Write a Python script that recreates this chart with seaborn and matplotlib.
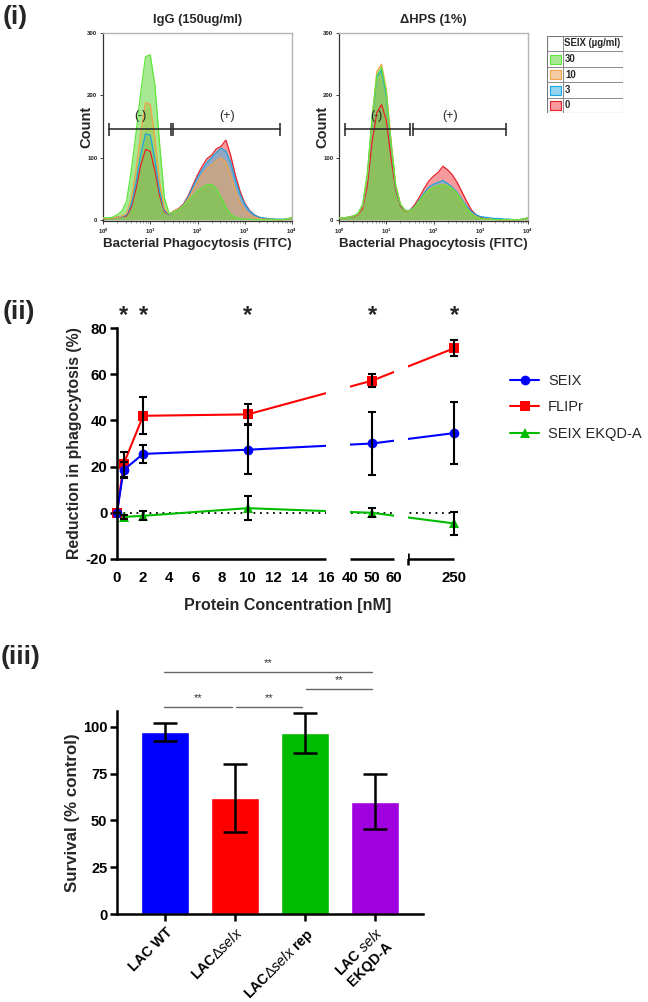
import numpy as np
import pandas as pd
import matplotlib
matplotlib.use("Agg")
import matplotlib.pyplot as plt
import seaborn as sns
from matplotlib.patches import Rectangle
from matplotlib.ticker import FixedLocator, NullFormatter, LogLocator, LogFormatterSciNotation

# ---------------------------------------------------------------- data
# (i) flow cytometry histograms: log10(FITC) bin centres and counts
fitc_log = [0.0, 0.1, 0.2, 0.3, 0.4, 0.5, 0.6, 0.7, 0.8, 0.9,
            1.0, 1.1, 1.2, 1.3, 1.4, 1.5, 1.6, 1.7, 1.8, 1.9,
            2.0, 2.1, 2.2, 2.3, 2.4, 2.5, 2.6, 2.7, 2.8, 2.9,
            3.0, 3.1, 3.2, 3.3, 3.4, 3.5, 3.6, 3.7, 3.8, 3.9, 4.0]
seix_levels = ["30", "10", "3", "0"]

igg_30 = [3, 3, 4, 8, 14, 30, 80, 140, 205, 262, 265, 215, 120, 35, 10, 12, 16, 22, 30, 38,
          46, 52, 56, 57, 50, 36, 20, 9, 4, 2, 1, 1, 0, 0, 0, 0, 0, 0, 0, 1, 4]
igg_10 = [2, 2, 3, 4, 6, 10, 35, 80, 140, 188, 185, 130, 60, 18, 9, 14, 17, 23, 33, 46,
          60, 72, 82, 88, 95, 100, 92, 72, 46, 28, 15, 8, 4, 2, 1, 1, 0, 0, 0, 1, 3]
igg_3 = [2, 2, 3, 4, 5, 8, 25, 60, 105, 138, 136, 95, 45, 15, 8, 14, 17, 24, 36, 52,
         68, 80, 92, 100, 108, 115, 110, 92, 64, 41, 25, 14, 8, 4, 3, 2, 1, 1, 1, 1, 3]
igg_0 = [2, 2, 3, 4, 5, 6, 20, 50, 88, 113, 110, 78, 38, 13, 8, 14, 18, 25, 38, 55,
         72, 86, 98, 104, 114, 118, 128, 104, 72, 46, 27, 15, 8, 4, 2, 1, 1, 0, 0, 1, 3]

hps_30 = [3, 3, 4, 6, 10, 25, 75, 165, 232, 245, 205, 125, 55, 25, 15, 14, 20, 30, 40, 47,
          52, 55, 56, 54, 50, 42, 30, 18, 9, 4, 2, 1, 1, 0, 0, 0, 0, 0, 0, 1, 3]
hps_10 = [3, 3, 4, 6, 9, 22, 70, 160, 238, 250, 210, 128, 56, 25, 15, 14, 20, 30, 40, 48,
          53, 55, 57, 55, 50, 42, 31, 19, 10, 5, 2, 1, 1, 0, 0, 0, 0, 0, 0, 1, 3]
hps_3 = [3, 3, 4, 6, 9, 22, 68, 158, 230, 240, 200, 122, 52, 24, 15, 15, 21, 32, 43, 52,
         57, 60, 63, 58, 52, 44, 33, 22, 13, 8, 5, 4, 3, 2, 2, 1, 1, 0, 0, 1, 3]
hps_0 = [3, 3, 4, 5, 8, 18, 55, 125, 172, 185, 160, 100, 48, 22, 14, 15, 24, 36, 50, 62,
         70, 76, 86, 80, 72, 60, 45, 30, 16, 8, 4, 2, 1, 1, 0, 0, 0, 0, 0, 1, 3]

# gates (log10 FITC limits) for (-) and (+)
igg_gates = [(0.13, 1.43), (1.49, 3.74)]
hps_gates = [(0.13, 1.50), (1.57, 3.53)]

# (ii) reduction in phagocytosis
conc_nm = [0, 0.5, 2, 10, 50, 250]
seix_mean = [0, 18.5, 25.5, 27.3, 30.0, 34.5]
seix_err = [0, 3.5, 3.8, 10.5, 13.6, 13.5]
flipr_mean = [0, 21.0, 42.0, 42.6, 57.2, 71.2]
flipr_err = [0, 5.5, 8.0, 4.3, 2.8, 3.5]
ekqd_mean = [0, -1.8, -1.3, 2.0, 0.0, -4.6]
ekqd_err = [0, 1.0, 2.0, 5.3, 2.0, 4.9]
proteins = ["SEIX", "FLIPr", "SEIX EKQD-A"]
sig_conc = [0.5, 2, 10, 50, 250]
conc_ticks = [0, 2, 4, 6, 8, 10, 12, 14, 16, 40, 50, 60, 250]

# (iii) survival
strains = ["LAC WT", "LACdselx", "LACdselx rep", "LAC selx EKQD-A"]
strain_labels = ["LAC WT", r"LAC$\Delta\mathit{selx}$", r"LAC$\Delta\mathit{selx}$ rep",
                 "LAC $\\mathit{selx}$\nEKQD-A"]
survival = [97.3, 62.0, 96.8, 60.0]
survival_err = [5.0, 18.3, 10.5, 14.8]
sig_pairs = [(0, 1), (1, 2), (2, 3), (0, 3)]
sig_text = ["**", "**", "**", "**"]

# ---------------------------------------------------------------- style
sns.set_theme(style="ticks")
plt.rcParams["font.family"] = ["Liberation Sans", "DejaVu Sans"]
plt.rcParams["font.weight"] = "bold"
plt.rcParams["axes.unicode_minus"] = False
plt.rcParams["mathtext.fontset"] = "custom"
plt.rcParams["mathtext.rm"] = "Liberation Sans:weight=normal"
plt.rcParams["mathtext.it"] = "Liberation Sans:style=italic:weight=normal"
plt.rcParams["mathtext.bf"] = "Liberation Sans:weight=bold"

W, H = 648, 1002
fig = plt.figure(figsize=(W / 100, H / 100), dpi=100)


def rect(x0, y0, x1, y1):
    return [x0 / W, 1 - y1 / H, (x1 - x0) / W, (y1 - y0) / H]


hist_fill = {"30": "#5fd83a", "10": "#eea45c", "3": "#3db4e6", "0": "#f0474d"}
hist_edge = {"30": "#5ee63a", "10": "#f2a24a", "3": "#1aa6e0", "0": "#e8202a"}


def hist_panel(box, title, series, gates, lbl_pos):
    ax = fig.add_axes(rect(*box))
    xv = 10 ** np.asarray(fitc_log)
    for lev in ["0", "3", "10", "30"]:
        vals = series[lev]
        ax.fill_between(xv, vals, 0, color=hist_fill[lev], alpha=0.55, lw=0, zorder=2)
        ax.plot(xv, vals, color=hist_edge[lev], lw=0.9, zorder=3)
    ax.set_xscale("log")
    ax.set_xlim(1, 1e4)
    ax.set_ylim(-2, 300)
    ax.set_yticks([0, 100, 200, 300])
    ax.xaxis.set_major_locator(LogLocator(base=10, numticks=10))
    ax.xaxis.set_major_formatter(LogFormatterSciNotation())
    ax.xaxis.set_minor_locator(LogLocator(base=10, subs=np.arange(2, 10), numticks=50))
    ax.xaxis.set_minor_formatter(NullFormatter())
    ax.tick_params(axis="both", which="major", labelsize=4.3, length=2, width=0.6, pad=2,
                   colors="#222222")
    ax.tick_params(axis="x", which="minor", length=1.2, width=0.4, colors="#444444")
    for s in ["left", "bottom"]:
        ax.spines[s].set_color("#333333")
        ax.spines[s].set_linewidth(0.9)
    for s in ["top", "right"]:
        ax.spines[s].set_color("#b5b5b5")
        ax.spines[s].set_linewidth(1.0)
    ax.set_title(title, fontsize=9.3, fontweight="bold", pad=7)
    ax.set_ylabel("Count", fontsize=10.5, fontweight="bold")
    ax.yaxis.set_label_coords(-0.05, 0.5)
    ax.set_xlabel("Bacterial Phagocytosis (FITC)", fontsize=9.6, fontweight="bold")
    ax.xaxis.set_label_coords(0.5, -0.09)
    gy = 145
    for lo, hi in gates:
        ax.plot([10 ** lo, 10 ** hi], [gy, gy], color="#222222", lw=1.1, zorder=5)
        ax.vlines([10 ** lo, 10 ** hi], gy - 11, gy + 11, color="#222222", lw=1.1, zorder=5)
    ax.text(10 ** lbl_pos[0], 166, "(-)", ha="center", va="center", fontsize=9,
            fontweight="normal", zorder=6)
    ax.text(10 ** lbl_pos[1], 166, "(+)", ha="center", va="center", fontsize=9,
            fontweight="normal", zorder=6)
    return ax


hist_panel((103, 33, 292, 221), "IgG (150ug/ml)",
           {"30": igg_30, "10": igg_10, "3": igg_3, "0": igg_0}, igg_gates, (0.79, 2.62))
hist_panel((339, 33, 528, 221), "\u0394HPS (1%)",
           {"30": hps_30, "10": hps_10, "3": hps_3, "0": hps_0}, hps_gates, (0.80, 2.35))

# legend table for (i)
lt = fig.add_axes(rect(547, 36, 623, 113))
lt.set_xlim(0, 76)
lt.set_ylim(77, 0)
lt.axis("off")
lt.add_patch(Rectangle((0, 0), 76, 77, fill=False, ec="#777777", lw=0.8))
row_tops = [0, 15, 30.5, 46, 61.5]
for yy in row_tops[1:]:
    lt.plot([0, 76], [yy, yy], color="#777777", lw=0.6)
lt.plot([16, 16], [0, 77], color="#777777", lw=0.6)
lt.text(17.5, 7.5, "SEIX (\u00b5g/ml)", fontsize=6.9, fontweight="bold", va="center")
for i, lev in enumerate(seix_levels):
    top = row_tops[i + 1]
    lt.add_patch(Rectangle((2.5, top + 3.5), 11, 9, fc=hist_fill[lev], alpha=0.55,
                           ec="none"))
    lt.add_patch(Rectangle((2.5, top + 3.5), 11, 9, fill=False, ec=hist_edge[lev], lw=0.8))
    lt.text(18, top + 8, lev, fontsize=6.9, fontweight="bold", va="center")

# ---------------------------------------------------------------- (ii)
ax2 = fig.add_axes(rect(117, 328, 454, 559))
df = pd.DataFrame({
    "conc": conc_nm * 3,
    "value": seix_mean + flipr_mean + ekqd_mean,
    "protein": [proteins[0]] * 6 + [proteins[1]] * 6 + [proteins[2]] * 6,
})
line_cols = ["#0000ff", "#ff0000", "#00bb00"]
sns.lineplot(data=df, x="conc", y="value", hue="protein", style="protein",
             hue_order=proteins, style_order=proteins, markers=["o", "s", "^"],
             dashes=False, palette=line_cols, markersize=7, markeredgewidth=0,
             lw=1.5, ax=ax2, clip_on=False, zorder=2)
# SEIX drawn on top of the other series (as in the reference)
if len(ax2.lines) >= 3:
    ax2.lines[0].set_zorder(2.4)
    ax2.lines[1].set_zorder(2.2)

brk_c = np.array([0.0, 16.0, 40.0, 60.0, 200.0, 250.0])
brk_v = np.array([0.0, 209.0, 233.0, 277.0, 291.0, 337.0])


def _map(a, xs, ys):
    a = np.asarray(a, dtype=float)
    out = np.interp(a, xs, ys)
    s0 = (ys[1] - ys[0]) / (xs[1] - xs[0])
    s1 = (ys[-1] - ys[-2]) / (xs[-1] - xs[-2])
    out = np.where(a < xs[0], ys[0] + (a - xs[0]) * s0, out)
    out = np.where(a > xs[-1], ys[-1] + (a - xs[-1]) * s1, out)
    return out


ax2.set_xscale("function", functions=(lambda c: _map(c, brk_c, brk_v),
                                      lambda v: _map(v, brk_v, brk_c)))
ax2.set_xlim(0, 250)
ax2.set_ylim(-20, 80)

for m, e in zip([seix_mean, flipr_mean, ekqd_mean], [seix_err, flipr_err, ekqd_err]):
    ax2.errorbar(conc_nm, m, yerr=e, fmt="none", ecolor="black", elinewidth=1.5,
                 capsize=3.2, capthick=1.5, zorder=4, clip_on=False)

ax2.axhline(0, color="black", lw=1.3, ls=(0, (1, 2.6)), zorder=1)
# gaps of the broken axis
for a, b in [(brk_c[1], brk_c[2]), (brk_c[3], brk_c[4])]:
    ax2.axvspan(a, b, color="white", zorder=3, lw=0)

ax2.spines["top"].set_visible(False)
ax2.spines["right"].set_visible(False)
ax2.spines["bottom"].set_visible(False)
ax2.spines["left"].set_linewidth(1.8)
ax2.spines["left"].set_color("black")
for a, b in [(brk_c[0], brk_c[1]), (brk_c[2], brk_c[3]), (brk_c[4], brk_c[5])]:
    ax2.plot([a, b], [0, 0], transform=ax2.get_xaxis_transform(), color="black", lw=1.8,
             clip_on=False, solid_capstyle="butt", zorder=5)
ax2.xaxis.set_major_locator(FixedLocator(conc_ticks))
ax2.xaxis.set_major_formatter(matplotlib.ticker.FixedFormatter([str(c) for c in conc_ticks]))
ax2.xaxis.set_minor_locator(FixedLocator([16, 40, 50, 60, 200, 250]))
ax2.xaxis.set_minor_formatter(NullFormatter())
ax2.tick_params(axis="x", which="major", length=0, pad=9, labelsize=10.8, colors="black")
ax2.tick_params(axis="x", which="minor", length=9, width=1.8, direction="inout",
                colors="black")
ax2.set_yticks([-20, 0, 20, 40, 60, 80])
ax2.tick_params(axis="y", length=5, width=1.8, labelsize=10.8, colors="black", pad=2)
ax2.set_xlabel("Protein Concentration [nM]", fontsize=11.5, fontweight="bold")
ax2.xaxis.set_label_coords(0.505, -0.17)
ax2.set_ylabel("Reduction in phagocytosis (%)", fontsize=11.4, fontweight="bold")
ax2.yaxis.set_label_coords(-0.105, 0.5)
for c in sig_conc:
    ax2.text(c, 85.5, "*", ha="center", va="center", fontsize=17, fontweight="bold",
             clip_on=False)

leg = ax2.get_legend()
handles = leg.legend_handles
labels = [t.get_text() for t in leg.get_texts()]
leg.remove()
ax2.legend(handles, labels, loc="upper left", bbox_to_anchor=(510 / W, 1 - 374 / H),
           bbox_transform=fig.transFigure, frameon=False,
           prop={"size": 10.5, "weight": "normal"}, handlelength=2.0,
           labelspacing=0.85, borderaxespad=0, borderpad=0, handletextpad=0.6)

# ---------------------------------------------------------------- (iii)
ax3 = fig.add_axes(rect(117, 711, 423, 914))
bar_cols = ["#0000ff", "#ff0000", "#00bb00", "#a000e0"]
sns.barplot(x=strains, y=survival, hue=strains, palette=bar_cols, width=0.69,
            saturation=1, legend=False, errorbar=None, ax=ax3, zorder=2)
ax3.errorbar(range(len(strains)), survival, yerr=survival_err, fmt="none", ecolor="black",
             elinewidth=1.8, capsize=8.5, capthick=1.8, zorder=4)
ax3.set_xlim(-0.69, 3.69)
ax3.set_ylim(0, 108.5)
ax3.set_yticks([0, 25, 50, 75, 100])
ax3.set_xticks(range(len(strains)))
ax3.set_xticklabels(strain_labels, rotation=45, ha="right", rotation_mode="anchor",
                    fontsize=10.3, fontweight="bold", multialignment="center")
ax3.tick_params(axis="both", length=5, width=1.8, colors="black")
ax3.tick_params(axis="y", labelsize=10.5, pad=2)
ax3.tick_params(axis="x", pad=3)
for s in ["top", "right"]:
    ax3.spines[s].set_visible(False)
for s in ["left", "bottom"]:
    ax3.spines[s].set_linewidth(1.8)
    ax3.spines[s].set_color("black")
ax3.set_xlabel("")
ax3.set_ylabel("Survival (% control)", fontsize=12.2, fontweight="bold")
ax3.yaxis.set_label_coords(-0.12, 0.5)
sig_heights = [110.7, 110.7, 120.3, 129.4]
for (i, j), hh, txt in zip(sig_pairs, sig_heights, sig_text):
    x0 = i + 0.02 if i > 0 else i - 0.02
    ax3.plot([x0, j - 0.04], [hh, hh], color="#666666", lw=1.0, clip_on=False)
    ax3.text((x0 + j - 0.04) / 2, hh + 2.0, txt, ha="center", va="bottom", fontsize=8,
             fontweight="normal", color="#333333", clip_on=False)

# ---------------------------------------------------------------- panel labels
fig.text(3 / W, 1 - 17 / H, "(i)", fontsize=19, fontweight="bold", va="center")
fig.text(3 / W, 1 - 312 / H, "(ii)", fontsize=19, fontweight="bold", va="center")
fig.text(1 / W, 1 - 657 / H, "(iii)", fontsize=19, fontweight="bold", va="center")

fig.savefig("out.png", dpi=100)
